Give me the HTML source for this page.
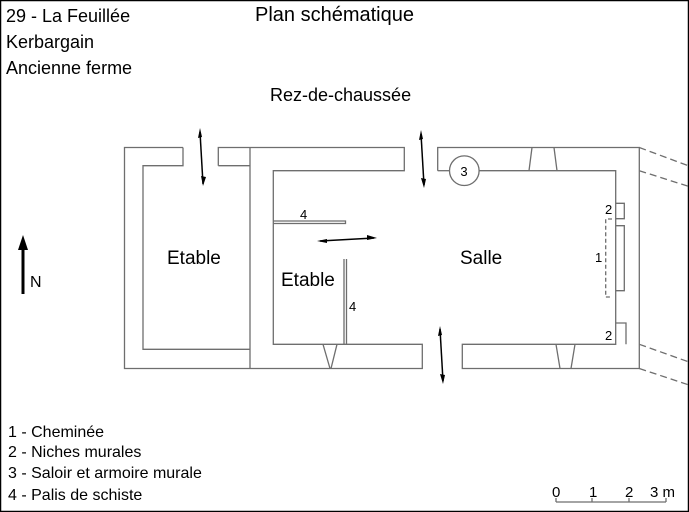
<!DOCTYPE html>
<html><head><meta charset="utf-8"><style>
html,body{margin:0;padding:0;background:#fff;}
svg{display:block;}
text{font-family:"Liberation Sans",sans-serif;fill:#000;}
</style></head><body>
<svg width="689" height="512" viewBox="0 0 689 512" xmlns="http://www.w3.org/2000/svg">
<rect x="0.5" y="0.5" width="688" height="511" fill="none" stroke="#000" stroke-width="1.5"/>
<text x="6" y="22" font-size="18">29 - La Feuillée</text>
<text x="6" y="48" font-size="18">Kerbargain</text>
<text x="6" y="74" font-size="18">Ancienne ferme</text>
<text x="255" y="21" font-size="20">Plan schématique</text>
<text x="270" y="101" font-size="18">Rez-de-chaussée</text>

<g fill="none" stroke="#6e6e6e" stroke-width="1.3">
<path d="M183,147.5 H124.5 V368.5 H250 M250,147.5 V368.5"/>
<path d="M183,147.5 V165.7 H143 V349.3 H250"/>
<path d="M218.3,165.7 V147.5 H404.3 V170.7 H273.3 V344.3 H422.3 V368.5 H250"/>
<path d="M218.3,165.7 H250"/>
<path d="M437.7,170.7 V147.5 H639.3 V368.5 H462.3 V344.3 H615.7 V170.7 H479"/>
<path d="M449.5,170.7 H437.7"/>
<circle cx="464.3" cy="170.7" r="14.8"/>
<path d="M532,147.5 L529,170.7 M554,147.5 L557,170.7"/>
<path d="M556,344.3 L560,368.5 M575,344.3 L571,368.5"/>
<path d="M323,344.3 L330,368.5 M337,344.3 L331,368.5"/>
<path d="M615.7,203.3 H624.3 V218.7 H615.7"/>
<path d="M615.7,225.7 H624.3 V290.7 H615.7"/>
<path d="M615.7,323 H626 V344.3"/>
<path d="M612,219 H605.7 V297 H612" stroke-dasharray="4,2.5"/>
<path d="M639.3,147.5 L689,166 M639.3,170.7 L689,186.5 M639.3,344.3 L689,362 M639.3,368.5 L689,385" stroke-dasharray="7,4"/>
<path d="M273.3,221 H345.5 V223.5 H273.3"/>
<path d="M344,259 V344.3 M346.5,259 V344.3"/>
</g>

<g stroke="#000" stroke-width="1.5" fill="#000">
<line x1="200" y1="132" x2="203" y2="184"/><path d="M200,128 L198,138 L202,137 Z" stroke="none"/><path d="M203,186 L201,176 L206,177 Z" stroke="none"/>
<line x1="421" y1="134" x2="424" y2="185"/><path d="M421,130 L419,140 L423,139 Z" stroke="none"/><path d="M424,188 L421,178 L426,179 Z" stroke="none"/>
<line x1="440" y1="329" x2="443" y2="381"/><path d="M440,326 L438,336 L442,335 Z" stroke="none"/><path d="M443,384 L440,374 L445,375 Z" stroke="none"/>
<line x1="320" y1="241" x2="374" y2="238"/><path d="M317,241 L327,239 L327,243 Z" stroke="none"/><path d="M377,238 L367,235 L367,240 Z" stroke="none"/>
<line x1="23" y1="244" x2="23" y2="294" stroke-width="3"/><path d="M23,235 L18,250 L28,250 Z" stroke="none"/>
</g>
<text x="30" y="287" font-size="16">N</text>

<text x="167" y="264" font-size="19">Etable</text>
<text x="281" y="286" font-size="19">Etable</text>
<text x="460" y="264" font-size="19">Salle</text>
<text x="300" y="219" font-size="13">4</text>
<text x="349" y="311" font-size="13">4</text>
<text x="464" y="176" font-size="13" text-anchor="middle">3</text>
<text x="605" y="214" font-size="13">2</text>
<text x="605" y="340" font-size="13">2</text>
<text x="595" y="262" font-size="13">1</text>

<text x="8" y="437" font-size="16">1 - Cheminée</text>
<text x="8" y="457" font-size="16">2 - Niches murales</text>
<text x="8" y="478" font-size="16">3 - Saloir et armoire murale</text>
<text x="8" y="500" font-size="16">4 - Palis de schiste</text>

<g stroke="#6e6e6e" stroke-width="1.3">
<path d="M556,502 H666 M556,498 V502 M592,498 V502 M629,498 V502 M666,498 V502"/>
</g>
<text x="552" y="497" font-size="15">0</text>
<text x="589" y="497" font-size="15">1</text>
<text x="625" y="497" font-size="15">2</text>
<text x="650" y="497" font-size="15">3 m</text>
</svg>
</body></html>
